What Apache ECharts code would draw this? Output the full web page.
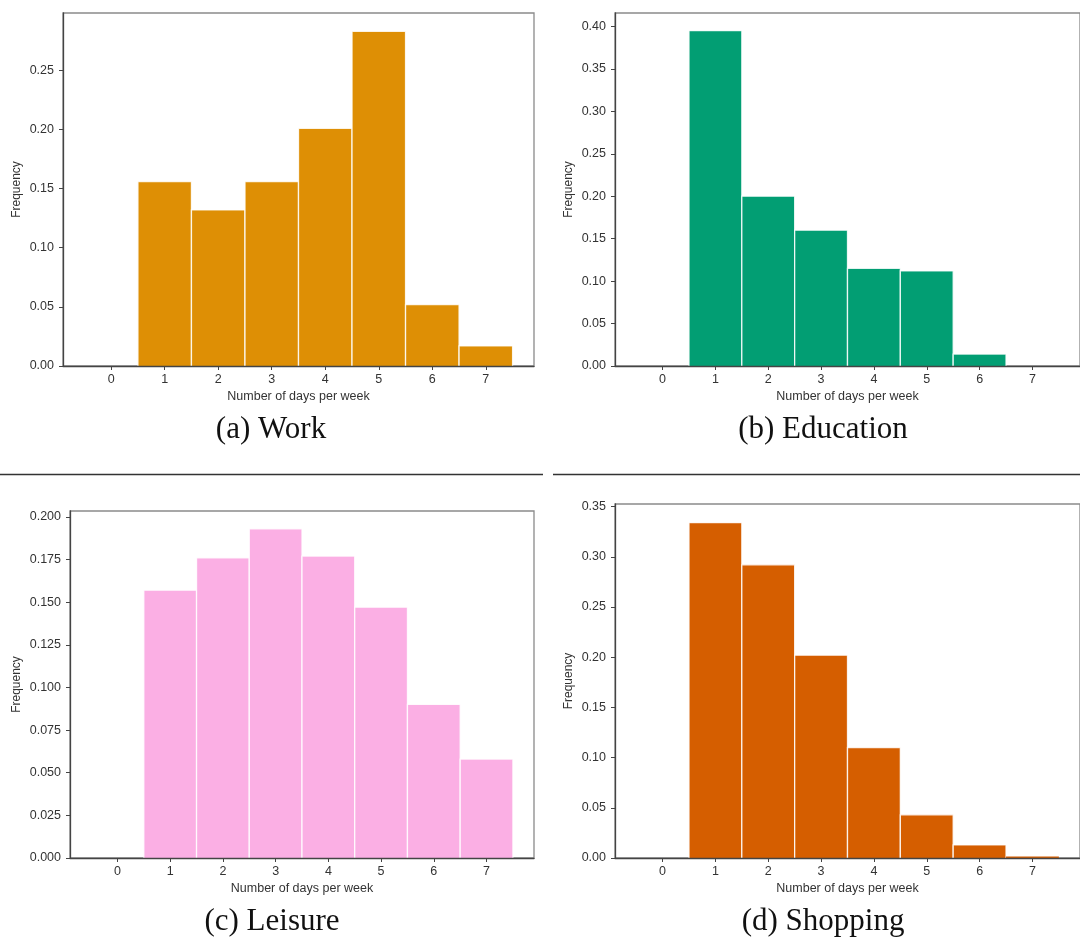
<!DOCTYPE html>
<html>
<head>
<meta charset="utf-8">
<script src="https://cdn.jsdelivr.net/npm/echarts@6/dist/echarts.min.js"></script>
<style>
html,body{margin:0;padding:0;background:#fff;}
#chart{width:1080px;height:937px;}
</style>
</head>
<body>
<div id="chart"></div>
<script>
// ---- data ----
const days = [1, 2, 3, 4, 5, 6, 7];
const xTicks = [0, 1, 2, 3, 4, 5, 6, 7];
const work = [0.156, 0.132, 0.156, 0.201, 0.283, 0.052, 0.017];
const education = [0.395, 0.200, 0.160, 0.115, 0.112, 0.014, 0];
const leisure = [0.157, 0.176, 0.193, 0.177, 0.147, 0.090, 0.058];
const shopping = [0.334, 0.292, 0.202, 0.110, 0.043, 0.013, 0.0015];
const yTicksA = [0, 0.05, 0.10, 0.15, 0.20, 0.25];
const yTicksB = [0, 0.05, 0.10, 0.15, 0.20, 0.25, 0.30, 0.35, 0.40];
const yTicksC = [0, 0.025, 0.05, 0.075, 0.10, 0.125, 0.15, 0.175, 0.20];
const yTicksD = [0, 0.05, 0.10, 0.15, 0.20, 0.25, 0.30, 0.35];
const captions = ['(a) Work', '(b) Education', '(c) Leisure', '(d) Shopping'];
const xName = 'Number of days per week';
const yName = 'Frequency';

// ---- layout ----
const panels = [
  {grid: {left: 63, top: 13, width: 471, height: 353}, ymax: 0.2985, ticks: yTicksA, dec: 2, data: work, color: '#DE8F05'},
  {grid: {left: 615, top: 13, width: 471, height: 353}, ymax: 0.4158, ticks: yTicksB, dec: 2, data: education, color: '#029E73'},
  {grid: {left: 70, top: 511, width: 464, height: 347}, ymax: 0.2034, ticks: yTicksC, dec: 3, data: leisure, color: '#FBAFE4'},
  {grid: {left: 615, top: 504, width: 471, height: 354}, ymax: 0.3526, ticks: yTicksD, dec: 2, data: shopping, color: '#D55E00'}
];

const txt = '#333';
const font = 'Liberation Sans, Arial, sans-serif';

const option = {
  animation: false,
  backgroundColor: '#fff',
  grid: [], xAxis: [], yAxis: [], series: [],
  graphic: []
};

panels.forEach((p, i) => {
  option.grid.push(Object.assign({show: true, borderColor: '#8a8a8a', borderWidth: 1.3, backgroundColor: 'transparent'}, p.grid));
  option.xAxis.push({
    type: 'value', gridIndex: i, min: -0.9, max: 7.9, z: 10,
    name: xName, nameLocation: 'middle', nameGap: 24,
    nameTextStyle: {color: txt, fontSize: 12.5, fontFamily: font},
    axisLine: {show: true, onZero: false, lineStyle: {color: '#444', width: 1.3}},
    axisTick: {show: true, length: 4, lineStyle: {color: '#444'}, customValues: xTicks},
    axisLabel: {color: txt, fontSize: 12.5, fontFamily: font, margin: 7, customValues: xTicks, formatter: v => String(v)},
    splitLine: {show: false}
  });
  option.yAxis.push({
    type: 'value', gridIndex: i, min: 0, max: p.ymax, z: 10,
    name: yName, nameLocation: 'middle', nameRotate: 90, nameGap: p.dec === 3 ? 47 : 40,
    nameTextStyle: {color: txt, fontSize: 12, fontFamily: font},
    axisLine: {show: true, onZero: false, lineStyle: {color: '#444', width: 1.3}},
    axisTick: {show: true, length: 4, lineStyle: {color: '#444'}, customValues: p.ticks},
    axisLabel: {color: txt, fontSize: 12.5, fontFamily: font, margin: 9, customValues: p.ticks, formatter: v => v.toFixed(p.dec)},
    splitLine: {show: false}
  });
  const col = p.color;
  option.series.push({
    type: 'custom', xAxisIndex: i, yAxisIndex: i,
    data: days.map((d, k) => [d, p.data[k]]),
    renderItem: function (params, api) {
      const x = api.value(0), y = api.value(1);
      if (!(y > 0)) return null;
      const a = api.coord([x - 0.5, y]);
      const b = api.coord([x + 0.5, 0]);
      const h = b[1] - a[1];
      const children = [{type: 'rect', shape: {x: a[0], y: a[1], width: b[0] - a[0], height: h},
        style: {fill: col}}];
      if (h > 3) {
        children.push({type: 'polyline', shape: {points: [[a[0], b[1]], [a[0], a[1]], [b[0], a[1]], [b[0], b[1]]]},
          style: {stroke: 'rgba(255,255,255,0.85)', lineWidth: 1.3, fill: null}});
      }
      return {type: 'group', children: children};
    }
  });
});

const capPos = [[271, 430], [823, 430], [272, 922], [823, 922]];
captions.forEach((c, i) => {
  option.graphic.push({type: 'text', x: capPos[i][0], y: capPos[i][1],
    style: {text: c, x: 0, y: 0, align: 'center', verticalAlign: 'middle', fill: '#111',
      font: '31px "Liberation Serif", "DejaVu Serif", serif'}});
});
option.graphic.push({type: 'line', shape: {x1: 0, y1: 474.5, x2: 543, y2: 474.5}, style: {stroke: '#333', lineWidth: 1.3}});
option.graphic.push({type: 'line', shape: {x1: 553, y1: 474.5, x2: 1080, y2: 474.5}, style: {stroke: '#333', lineWidth: 1.3}});

const chart = echarts.init(document.getElementById('chart'), null, {renderer: 'canvas'});
chart.setOption(option);
</script>
</body>
</html>
